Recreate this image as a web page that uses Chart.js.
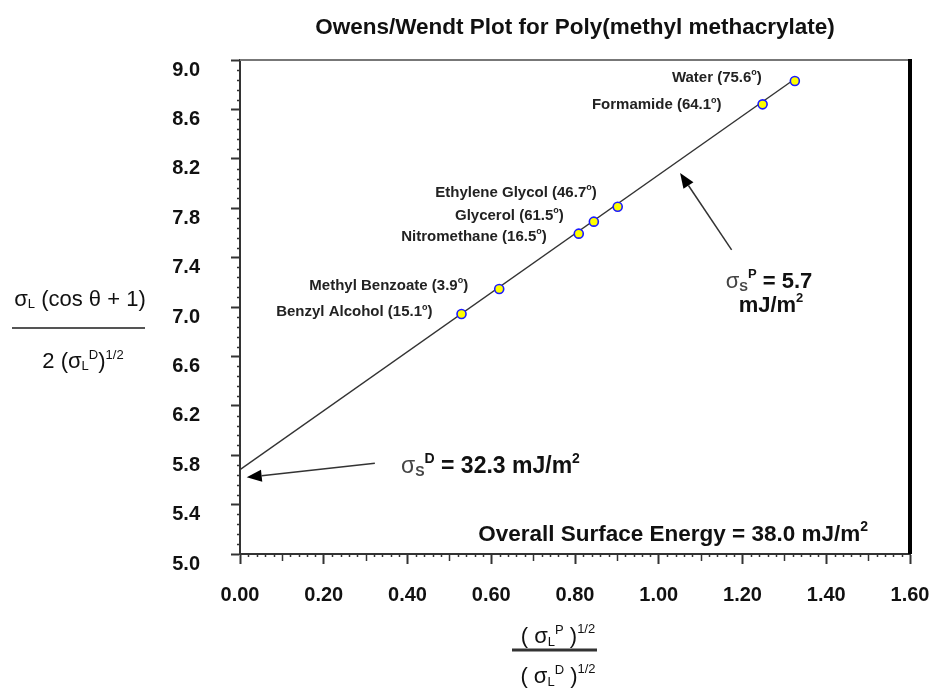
<!DOCTYPE html>
<html lang="en">
<head>
<meta charset="UTF-8">
<title>Owens/Wendt Plot for Poly(methyl methacrylate)</title>
<script src="https://cdn.jsdelivr.net/npm/chart.js"></script>
<style>
  html, body { margin: 0; padding: 0; background: #fff; }
</style>
</head>
<body>
<canvas id="owensChart" width="934" height="688"></canvas>
<script>
// liquids on PMMA, contact angle in degrees
const liquidNames = ['Water', 'Formamide', 'Ethylene Glycol', 'Glycerol', 'Nitromethane', 'Methyl Benzoate', 'Benzyl Alcohol'];
const contactAngles = ['75.6', '64.1', '46.7', '61.5', '16.5', '3.9', '15.1'];
const xValues = [1.325, 1.248, 0.902, 0.845, 0.809, 0.619, 0.529];
const yValues = [8.830, 8.641, 7.812, 7.691, 7.594, 7.146, 6.943];

// fitted line (slope^2 = polar part, intercept^2 = dispersive part)
const fitX = [0, 1.33];
const fitY = [5.683, 8.858];

const xTicks = [0, 0.2, 0.4, 0.6, 0.8, 1.0, 1.2, 1.4, 1.6];
const yTicks = [5.0, 5.4, 5.8, 6.2, 6.6, 7.0, 7.4, 7.8, 8.2, 8.6, 9.0];

const FF = '"Liberation Sans", Arial, sans-serif';
const f = (size, bold) => (bold ? 'bold ' : '') + size + 'px ' + FF;

// label placement next to each point (px)
const labelShift = [[-33, -3], [-41, 1], [-21, -14], [-30, -6], [-32, 3], [-31, -3], [-29, -2]];

// draw a row of text pieces (for sub/superscripts)
function drawRuns(ctx, x, y, runs, align) {
    let total = 0;
    runs.forEach(r => { ctx.font = r.font; r.w = ctx.measureText(r.t).width; total += r.w; });
    let cx = align === 'center' ? x - total / 2 : align === 'right' ? x - total : x;
    ctx.textAlign = 'left';
    ctx.textBaseline = 'middle';
    runs.forEach(r => {
        ctx.font = r.font;
        ctx.fillStyle = r.color || '#111';
        ctx.fillText(r.t, cx, y + (r.dy || 0));
        cx += r.w;
    });
}

function arrow(ctx, x1, y1, x2, y2) {
    const a = Math.atan2(y2 - y1, x2 - x1);
    const len = 15, half = 6;
    const bx = x2 - len * Math.cos(a), by = y2 - len * Math.sin(a);
    ctx.strokeStyle = '#333';
    ctx.lineWidth = 1.5;
    ctx.beginPath(); ctx.moveTo(x1, y1); ctx.lineTo(bx, by); ctx.stroke();
    ctx.fillStyle = '#000';
    ctx.beginPath();
    ctx.moveTo(x2, y2);
    ctx.lineTo(bx - half * Math.sin(a), by + half * Math.cos(a));
    ctx.lineTo(bx + half * Math.sin(a), by - half * Math.cos(a));
    ctx.closePath();
    ctx.fill();
}

const decorations = {
    id: 'decorations',
    afterDraw(chart) {
        const { ctx, chartArea: a, scales: { x, y } } = chart;
        ctx.save();

        // frame top / right
        ctx.strokeStyle = '#777';
        ctx.lineWidth = 2;
        ctx.beginPath(); ctx.moveTo(a.left, a.top); ctx.lineTo(a.right, a.top); ctx.stroke();
        ctx.strokeStyle = '#000';
        ctx.lineWidth = 4;
        ctx.beginPath(); ctx.moveTo(a.right, a.top - 1); ctx.lineTo(a.right, a.bottom); ctx.stroke();

        // minor ticks
        ctx.strokeStyle = '#333';
        ctx.lineWidth = 1.5;
        for (let i = 1; i < 80; i++) {
            if (i % 10 === 0) continue;
            const px = Math.round(x.getPixelForValue(i * 0.02)) + 0.5;
            const len = i % 5 === 0 ? 7 : 3;
            ctx.beginPath(); ctx.moveTo(px, a.bottom); ctx.lineTo(px, a.bottom + len); ctx.stroke();
        }
        for (let i = 1; i < 50; i++) {
            if (i % 5 === 0) continue;
            const py = Math.round(y.getPixelForValue(5 + i * 0.08)) + 0.5;
            ctx.beginPath(); ctx.moveTo(a.left - 3, py); ctx.lineTo(a.left, py); ctx.stroke();
        }

        // point labels
        xValues.forEach((v, i) => {
            const px = x.getPixelForValue(v) + labelShift[i][0];
            const py = y.getPixelForValue(yValues[i]) + labelShift[i][1];
            drawRuns(ctx, px, py, [
                { t: liquidNames[i] + ' (' + contactAngles[i], font: f(15, true), color: '#222' },
                { t: 'o', font: f(9, true), dy: -5, color: '#222' },
                { t: ')', font: f(15, true), color: '#222' }
            ], 'right');
        });

        // arrows
        arrow(ctx, x.getPixelForValue(1.174), y.getPixelForValue(7.462), x.getPixelForValue(1.051), y.getPixelForValue(8.085));
        arrow(ctx, x.getPixelForValue(0.322), y.getPixelForValue(5.734), x.getPixelForValue(0.016), y.getPixelForValue(5.621));

        // polar / dispersive parts
        drawRuns(ctx, 769, 282, [
            { t: 'σ', font: f(22, false), color: '#444' },
            { t: 'S', font: f(13, true), dy: 5, color: '#444' },
            { t: 'P', font: f(13, true), dy: -8 },
            { t: ' = 5.7', font: f(22, true) }
        ], 'center');
        drawRuns(ctx, 771, 306, [
            { t: 'mJ/m', font: f(22, true) },
            { t: '2', font: f(13, true), dy: -8 }
        ], 'center');
        drawRuns(ctx, 401, 467, [
            { t: 'σ', font: f(23, false), color: '#444' },
            { t: 'S', font: f(14, true), dy: 5, color: '#444' },
            { t: 'D', font: f(14, true), dy: -8 },
            { t: ' = 32.3 mJ/m', font: f(23, true) },
            { t: '2', font: f(14, true), dy: -8 }
        ], 'left');
        drawRuns(ctx, 868, 535, [
            { t: 'Overall Surface Energy = 38.0 mJ/m', font: f(22.5, true) },
            { t: '2', font: f(14, true), dy: -8 }
        ], 'right');

        // y axis title as a fraction
        drawRuns(ctx, 80, 300, [
            { t: 'σ', font: f(22, false) },
            { t: 'L', font: f(13, false), dy: 4 },
            { t: ' (cos θ + 1)', font: f(22, false) }
        ], 'center');
        ctx.strokeStyle = '#555';
        ctx.lineWidth = 2;
        ctx.beginPath(); ctx.moveTo(12, 328); ctx.lineTo(145, 328); ctx.stroke();
        drawRuns(ctx, 83, 362, [
            { t: '2 (σ', font: f(22, false) },
            { t: 'L', font: f(13, false), dy: 4 },
            { t: 'D', font: f(13, false), dy: -7 },
            { t: ')', font: f(22, false) },
            { t: '1/2', font: f(13, false), dy: -7 }
        ], 'center');

        // x axis title as a fraction
        drawRuns(ctx, 558, 637, [
            { t: '( σ', font: f(22, false) },
            { t: 'L', font: f(13, false), dy: 5 },
            { t: 'P', font: f(13, false), dy: -7 },
            { t: ' )', font: f(22, false) },
            { t: '1/2', font: f(13, false), dy: -8 }
        ], 'center');
        ctx.strokeStyle = '#333';
        ctx.lineWidth = 3;
        ctx.beginPath(); ctx.moveTo(512, 650); ctx.lineTo(597, 650); ctx.stroke();
        drawRuns(ctx, 558, 677, [
            { t: '( σ', font: f(22, false) },
            { t: 'L', font: f(13, false), dy: 5 },
            { t: 'D', font: f(13, false), dy: -7 },
            { t: ' )', font: f(22, false) },
            { t: '1/2', font: f(13, false), dy: -8 }
        ], 'center');

        ctx.restore();
    }
};

const tickFont = { family: FF, size: 20, weight: 'bold' };

new Chart(document.getElementById('owensChart'), {
    type: 'scatter',
    data: {
        datasets: [
            {
                label: 'Liquids',
                data: xValues.map((v, i) => ({ x: v, y: yValues[i] })),
                pointRadius: 4.5,
                pointBackgroundColor: '#ffff00',
                pointBorderColor: '#1a1aff',
                pointBorderWidth: 1.6,
                order: 0
            },
            {
                label: 'Fit',
                data: fitX.map((v, i) => ({ x: v, y: fitY[i] })),
                showLine: true,
                borderColor: '#333',
                borderWidth: 1.4,
                pointRadius: 0,
                order: 1
            }
        ]
    },
    options: {
        responsive: false,
        animation: false,
        layout: { padding: { top: 0, right: 24, bottom: 0, left: 0 } },
        plugins: {
            legend: { display: false },
            tooltip: { enabled: false },
            title: {
                display: true,
                fullSize: false,
                text: 'Owens/Wendt Plot for Poly(methyl methacrylate)',
                color: '#111',
                font: { family: FF, size: 22.5, weight: 'bold' },
                padding: { top: 14, bottom: 19 }
            }
        },
        scales: {
            x: {
                type: 'linear',
                min: 0,
                max: 1.6,
                afterBuildTicks: s => { s.ticks = xTicks.map(v => ({ value: v })); },
                afterFit: s => { s.height = 134; s.paddingLeft = 0; s.paddingRight = 0; },
                ticks: {
                    callback: v => Number(v).toFixed(2),
                    font: tickFont,
                    color: '#111',
                    padding: 19,
                    maxRotation: 0,
                    autoSkip: false
                },
                grid: { drawOnChartArea: false, tickLength: 10, tickColor: '#333', tickWidth: 2 },
                border: { color: '#333', width: 2 }
            },
            y: {
                min: 5,
                max: 9,
                afterBuildTicks: s => { s.ticks = yTicks.map(v => ({ value: v })); },
                afterFit: s => { s.width = 240; s.paddingTop = 0; s.paddingBottom = 0; },
                ticks: {
                    callback: v => Number(v).toFixed(1),
                    font: tickFont,
                    color: '#111',
                    padding: 31,
                    labelOffset: 10,
                    autoSkip: false
                },
                grid: { drawOnChartArea: false, tickLength: 9, tickColor: '#333', tickWidth: 2 },
                border: { color: '#333', width: 2 }
            }
        }
    },
    plugins: [decorations]
});
</script>
</body>
</html>
